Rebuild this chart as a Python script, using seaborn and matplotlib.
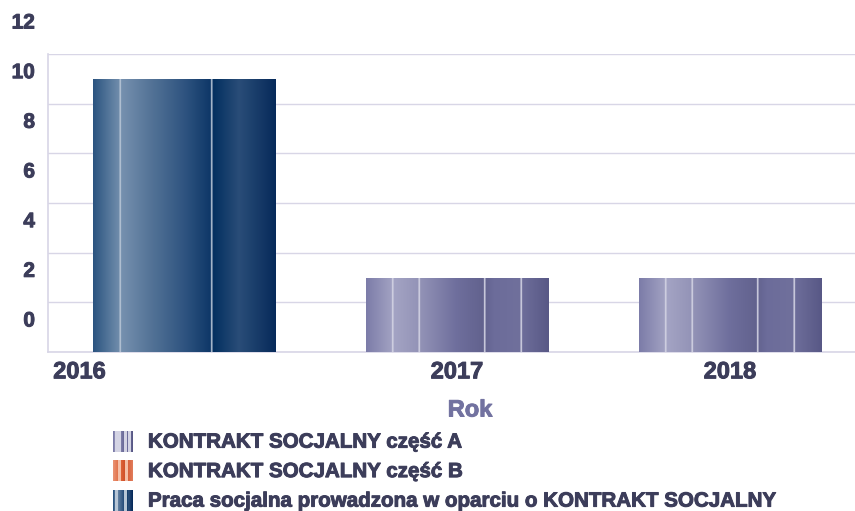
import numpy as np
import pandas as pd
import seaborn as sns
import matplotlib.pyplot as plt
from matplotlib.patches import Rectangle
from matplotlib.legend_handler import HandlerBase
from matplotlib.colors import to_rgb
import matplotlib.transforms as mtransforms
import matplotlib.patheffects as pe

# dane
lata = ["2016", "2017", "2018"]
serie = ["KONTRAKT SOCJALNY część A",
         "KONTRAKT SOCJALNY część B",
         "Praca socjalna prowadzona w oparciu o KONTRAKT SOCJALNY"]
czesc_a = [0, 3, 3]
czesc_b = [0, 0, 0]
praca_socjalna = [11, 0, 0]
y_ticks = [0, 2, 4, 6, 8, 10, 12]

# kolory gradientow (pozycja, kolor)
gradienty = {
    serie[0]: ([(0.00, "#7c7ca8"), (0.15, "#a4a4c4"), (0.30, "#9292b6"), (0.50, "#6e6e9c"),
                (0.64, "#62628e"), (0.70, "#6c6c9a"), (0.84, "#70709c"), (1.00, "#585886")],
               [0.146, 0.29, 0.65, 0.85], "#d4d4e4"),
    serie[1]: ([(0.00, "#e89070"), (0.30, "#e06a40"), (0.60, "#d05028"), (1.00, "#e07a58")],
               [0.3, 0.7], "#f4c0a8"),
    serie[2]: ([(0.00, "#2b5480"), (0.13, "#6a88a8"), (0.16, "#7590ae"), (0.30, "#577699"),
                (0.50, "#2f5480"), (0.64, "#0f3868"), (0.66, "#033060"), (0.80, "#2a4d78"),
                (1.00, "#062a5a")],
               [0.148, 0.65], "#b8c6d6"),
}
tekst_kolor = "#3c3d5a"
siatka_kolor = "#d8d6e6"
gruby = [pe.withStroke(linewidth=0.7, foreground=tekst_kolor)]


def gradient_kolumny(nazwa, n=366):
    stopy, linie, kolor_linii = gradienty[nazwa]
    pos = [s[0] for s in stopy]
    rgb = np.array([to_rgb(s[1]) for s in stopy])
    x = np.linspace(0, 1, n)
    kol = np.stack([np.interp(x, pos, rgb[:, i]) for i in range(3)], axis=1)
    lc = np.array(to_rgb(kolor_linii))
    for l in linie:
        idx = int(round(l * (n - 1)))
        kol[max(idx - 1, 0):idx + 2] = lc
    return kol


class GradientHandler(HandlerBase):
    def create_artists(self, legend, orig_handle, xdescent, ydescent, width, height, fontsize, trans):
        kol = gradient_kolumny(orig_handle.get_label(), n=20)
        out = []
        for i, c in enumerate(kol):
            r = Rectangle((-xdescent + i * width / len(kol), -ydescent - 2), width / len(kol) + 0.05, height + 3,
                          facecolor=c, edgecolor="none", transform=trans)
            out.append(r)
        return out


df = pd.DataFrame({
    "Rok": lata * 3,
    "seria": [serie[0]] * 3 + [serie[1]] * 3 + [serie[2]] * 3,
    "wartosc": czesc_a + czesc_b + praca_socjalna,
})

sns.set_style("white")
plt.rcParams["font.family"] = ["Liberation Sans", "DejaVu Sans"]
plt.rcParams["font.weight"] = "bold"

fig = plt.figure(figsize=(8.55, 5.11), dpi=100)
ax = fig.add_axes([47.5 / 855, 159 / 511, 807.5 / 855, 298 / 511])

sns.barplot(data=df, x="Rok", y="wartosc", hue="seria", hue_order=serie, order=lata,
            dodge=False, width=0.67, ax=ax, legend=False)

# gradienty na slupkach
for cont, nazwa in zip(ax.containers, serie):
    for p in cont.patches:
        if p.get_height() <= 0:
            continue
        p.set_facecolor("none")
        p.set_edgecolor("none")
        x0, y0 = p.get_x(), p.get_y()
        w, h = p.get_width(), p.get_height()
        img = gradient_kolumny(nazwa)[None, :, :]
        im = ax.imshow(img, extent=(x0, x0 + w, y0, y0 + h), aspect="auto", zorder=3,
                       interpolation="bilinear")
        im.set_clip_path(p)

ax.set_xlim(-0.5, -0.5 + 807.5 / 273)
ax.set_ylim(0, 12)
ax.set_yticks(y_ticks)
ax.set_yticklabels([str(v) for v in y_ticks])
ax.yaxis.grid(True, color=siatka_kolor, linewidth=1)
ax.set_axisbelow(True)
ax.tick_params(axis="both", length=0, colors=tekst_kolor)
ax.tick_params(axis="y", pad=9, labelsize=15)
ax.tick_params(axis="x", pad=6, labelsize=17)
for s in ["top", "right"]:
    ax.spines[s].set_visible(False)
for s in ["left", "bottom"]:
    ax.spines[s].set_color(siatka_kolor)
    ax.spines[s].set_linewidth(1.2)
ax.set_xlabel("")
ax.set_ylabel("")

# etykiety osi Y przesuniete w gore
przes = mtransforms.ScaledTranslation(0, 0.33, fig.dpi_scale_trans)
for lab in ax.get_yticklabels():
    lab.set_transform(lab.get_transform() + przes)
    lab.set_fontweight("bold")
    lab.set_path_effects(gruby)
przes_x = mtransforms.ScaledTranslation(-1.045, 0, fig.dpi_scale_trans)
labs = ax.get_xticklabels()
labs[0].set_transform(labs[0].get_transform() + przes_x)
for lab in labs:
    lab.set_fontweight("bold")
    lab.set_path_effects(gruby)

fig.text(470 / 855, 1 - 410 / 511, "Rok", ha="center", va="center", fontsize=17,
         fontweight="bold", color="#7272a0",
         path_effects=[pe.withStroke(linewidth=0.7, foreground="#7272a0")])

uchwyty = [Rectangle((0, 0), 1, 1, label=n) for n in serie]
leg = fig.legend(handles=uchwyty, labels=serie, loc="upper left",
                 bbox_to_anchor=(113 / 855, 1 - 432 / 511), frameon=False,
                 prop={"size": 14.8, "weight": "bold"}, handlelength=0.95, handleheight=0.9,
                 handletextpad=0.75, labelspacing=0.48, borderpad=0, borderaxespad=0,
                 handler_map={Rectangle: GradientHandler()})
for t in leg.get_texts():
    t.set_color(tekst_kolor)
    t.set_path_effects(gruby)

fig.savefig("out.png", dpi=100)
